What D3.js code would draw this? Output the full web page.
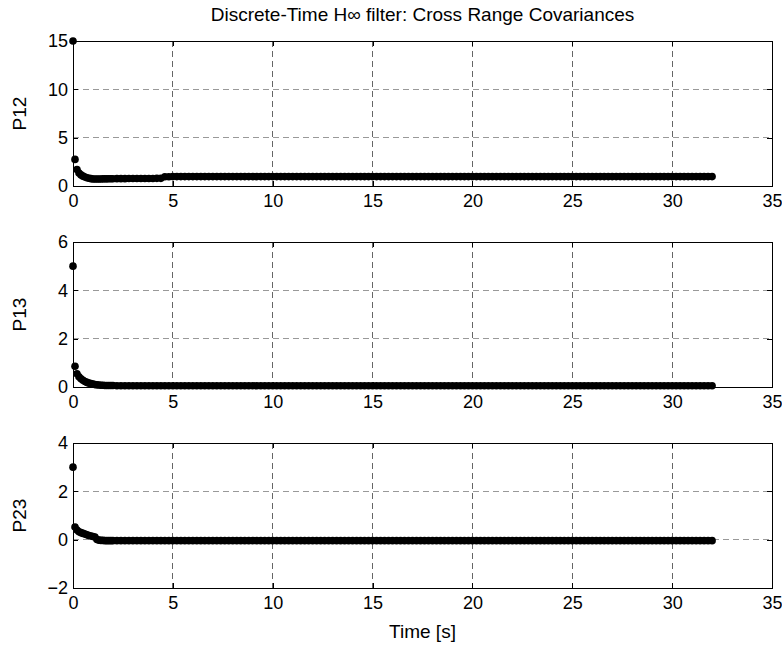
<!DOCTYPE html>
<html>
<head>
<meta charset="utf-8">
<script src="https://cdn.jsdelivr.net/npm/d3@7"></script>
<style>
  html, body { margin: 0; padding: 0; background: #fff; }
  svg { display: block; }
  text { font-family: "Liberation Sans", Arial, Helvetica, sans-serif; fill: #000; }
</style>
</head>
<body>
<svg id="chart" width="782" height="649"></svg>
<script>
// ---------------- DATA ----------------
const titleText = "Discrete-Time H\u221E filter: Cross Range Covariances";
const xLabelText = "Time [s]";
const xTicks = [0, 5, 10, 15, 20, 25, 30, 35];

const time = [
  0, 0.1, 0.2, 0.3, 0.4, 0.5, 0.6, 0.7, 0.8, 0.9, 1.0, 1.1, 1.2, 1.3, 1.4, 1.5, 1.6, 1.7, 1.8, 1.9, 2.0,
  2.2, 2.4, 2.6, 2.8, 3.0, 3.2, 3.4, 3.6, 3.8, 4.0,
  4.2, 4.4, 4.6, 4.8, 5.0, 5.2, 5.4, 5.6, 5.8, 6.0,
  6.2, 6.4, 6.6, 6.8, 7.0, 7.2, 7.4, 7.6, 7.8, 8.0,
  8.2, 8.4, 8.6, 8.8, 9.0, 9.2, 9.4, 9.6, 9.8, 10.0,
  10.2, 10.4, 10.6, 10.8, 11.0, 11.2, 11.4, 11.6, 11.8, 12.0,
  12.2, 12.4, 12.6, 12.8, 13.0, 13.2, 13.4, 13.6, 13.8, 14.0,
  14.2, 14.4, 14.6, 14.8, 15.0, 15.2, 15.4, 15.6, 15.8, 16.0,
  16.2, 16.4, 16.6, 16.8, 17.0, 17.2, 17.4, 17.6, 17.8, 18.0,
  18.2, 18.4, 18.6, 18.8, 19.0, 19.2, 19.4, 19.6, 19.8, 20.0,
  20.2, 20.4, 20.6, 20.8, 21.0, 21.2, 21.4, 21.6, 21.8, 22.0,
  22.2, 22.4, 22.6, 22.8, 23.0, 23.2, 23.4, 23.6, 23.8, 24.0,
  24.2, 24.4, 24.6, 24.8, 25.0, 25.2, 25.4, 25.6, 25.8, 26.0,
  26.2, 26.4, 26.6, 26.8, 27.0, 27.2, 27.4, 27.6, 27.8, 28.0,
  28.2, 28.4, 28.6, 28.8, 29.0, 29.2, 29.4, 29.6, 29.8, 30.0,
  30.2, 30.4, 30.6, 30.8, 31.0, 31.2, 31.4, 31.6, 31.8, 32.0
];

const p12 = [
  15, 2.75, 1.7, 1.35, 1.15, 1.02, 0.93, 0.86, 0.8, 0.76, 0.73, 0.72, 0.72, 0.73, 0.73, 0.74, 0.74, 0.74, 0.75, 0.75, 0.75,
  0.76, 0.76, 0.76, 0.77, 0.77, 0.77, 0.78, 0.78, 0.78, 0.78,
  0.79, 0.79, 0.96, 0.96, 0.97, 0.97, 0.97, 0.97, 0.97, 0.97,
  0.97, 0.97, 0.97, 0.97, 0.97, 0.97, 0.97, 0.97, 0.97, 0.97,
  0.97, 0.97, 0.97, 0.97, 0.97, 0.97, 0.97, 0.97, 0.97, 0.97,
  0.97, 0.97, 0.97, 0.97, 0.97, 0.97, 0.97, 0.97, 0.97, 0.97,
  0.97, 0.97, 0.97, 0.97, 0.97, 0.97, 0.97, 0.97, 0.97, 0.97,
  0.97, 0.97, 0.97, 0.97, 0.97, 0.97, 0.97, 0.97, 0.97, 0.97,
  0.97, 0.97, 0.97, 0.97, 0.97, 0.97, 0.97, 0.97, 0.97, 0.97,
  0.97, 0.97, 0.97, 0.97, 0.97, 0.97, 0.97, 0.97, 0.97, 0.97,
  0.97, 0.97, 0.97, 0.97, 0.97, 0.97, 0.97, 0.97, 0.97, 0.97,
  0.97, 0.97, 0.97, 0.97, 0.97, 0.97, 0.97, 0.97, 0.97, 0.97,
  0.97, 0.97, 0.97, 0.97, 0.97, 0.97, 0.97, 0.97, 0.97, 0.97,
  0.97, 0.97, 0.97, 0.97, 0.97, 0.97, 0.97, 0.97, 0.97, 0.97,
  0.97, 0.97, 0.97, 0.97, 0.97, 0.97, 0.97, 0.97, 0.97, 0.97,
  0.97, 0.97, 0.97, 0.97, 0.97, 0.97, 0.97, 0.97, 0.97, 0.97
];

const p13 = [
  5, 0.86, 0.55, 0.42, 0.34, 0.28, 0.23, 0.19, 0.16, 0.14, 0.12, 0.1, 0.09, 0.08, 0.07, 0.07, 0.06, 0.06, 0.06, 0.06, 0.06,
  0.05, 0.05, 0.05, 0.05, 0.05, 0.05, 0.05, 0.05, 0.05, 0.05,
  0.05, 0.05, 0.05, 0.05, 0.05, 0.05, 0.05, 0.05, 0.05, 0.05,
  0.05, 0.05, 0.05, 0.05, 0.05, 0.05, 0.05, 0.05, 0.05, 0.05,
  0.05, 0.05, 0.05, 0.05, 0.05, 0.05, 0.05, 0.05, 0.05, 0.05,
  0.05, 0.05, 0.05, 0.05, 0.05, 0.05, 0.05, 0.05, 0.05, 0.05,
  0.05, 0.05, 0.05, 0.05, 0.05, 0.05, 0.05, 0.05, 0.05, 0.05,
  0.05, 0.05, 0.05, 0.05, 0.05, 0.05, 0.05, 0.05, 0.05, 0.05,
  0.05, 0.05, 0.05, 0.05, 0.05, 0.05, 0.05, 0.05, 0.05, 0.05,
  0.05, 0.05, 0.05, 0.05, 0.05, 0.05, 0.05, 0.05, 0.05, 0.05,
  0.05, 0.05, 0.05, 0.05, 0.05, 0.05, 0.05, 0.05, 0.05, 0.05,
  0.05, 0.05, 0.05, 0.05, 0.05, 0.05, 0.05, 0.05, 0.05, 0.05,
  0.05, 0.05, 0.05, 0.05, 0.05, 0.05, 0.05, 0.05, 0.05, 0.05,
  0.05, 0.05, 0.05, 0.05, 0.05, 0.05, 0.05, 0.05, 0.05, 0.05,
  0.05, 0.05, 0.05, 0.05, 0.05, 0.05, 0.05, 0.05, 0.05, 0.05,
  0.05, 0.05, 0.05, 0.05, 0.05, 0.05, 0.05, 0.05, 0.05, 0.05
];

const p23 = [
  3, 0.52, 0.4, 0.33, 0.29, 0.26, 0.23, 0.2, 0.17, 0.15, 0.13, 0.11, 0.01, -0.02, -0.03, -0.03, -0.04, -0.04, -0.04, -0.04, -0.04,
  -0.04, -0.04, -0.04, -0.04, -0.04, -0.04, -0.04, -0.04, -0.04, -0.04,
  -0.04, -0.04, -0.04, -0.04, -0.04, -0.04, -0.04, -0.04, -0.04, -0.04,
  -0.04, -0.04, -0.04, -0.04, -0.04, -0.04, -0.04, -0.04, -0.04, -0.04,
  -0.04, -0.04, -0.04, -0.04, -0.04, -0.04, -0.04, -0.04, -0.04, -0.04,
  -0.04, -0.04, -0.04, -0.04, -0.04, -0.04, -0.04, -0.04, -0.04, -0.04,
  -0.04, -0.04, -0.04, -0.04, -0.04, -0.04, -0.04, -0.04, -0.04, -0.04,
  -0.04, -0.04, -0.04, -0.04, -0.04, -0.04, -0.04, -0.04, -0.04, -0.04,
  -0.04, -0.04, -0.04, -0.04, -0.04, -0.04, -0.04, -0.04, -0.04, -0.04,
  -0.04, -0.04, -0.04, -0.04, -0.04, -0.04, -0.04, -0.04, -0.04, -0.04,
  -0.04, -0.04, -0.04, -0.04, -0.04, -0.04, -0.04, -0.04, -0.04, -0.04,
  -0.04, -0.04, -0.04, -0.04, -0.04, -0.04, -0.04, -0.04, -0.04, -0.04,
  -0.04, -0.04, -0.04, -0.04, -0.04, -0.04, -0.04, -0.04, -0.04, -0.04,
  -0.04, -0.04, -0.04, -0.04, -0.04, -0.04, -0.04, -0.04, -0.04, -0.04,
  -0.04, -0.04, -0.04, -0.04, -0.04, -0.04, -0.04, -0.04, -0.04, -0.04,
  -0.04, -0.04, -0.04, -0.04, -0.04, -0.04, -0.04, -0.04, -0.04, -0.04
];

const yLabels = ["P12", "P13", "P23"];
const yTicks12 = [0, 5, 10, 15];
const yTicks13 = [0, 2, 4, 6];
const yTicks23 = [-2, 0, 2, 4];

// ---------------- DRAW ----------------
const svg = d3.select("#chart");
const left = 73, right = 772;
const panelTops = [41, 242, 443];
const panelH = 145;
const tickFont = 18;
const labelFont = 19;
const titleFont = 19;

const panels = [
  { values: p12, label: yLabels[0], ticks: yTicks12, domain: [0, 15] },
  { values: p13, label: yLabels[1], ticks: yTicks13, domain: [0, 6] },
  { values: p23, label: yLabels[2], ticks: yTicks23, domain: [-2, 4] }
];

const x = d3.scaleLinear().domain([0, 35]).range([left, right]);

panels.forEach((p, i) => {
  const top = panelTops[i], bottom = top + panelH;
  const y = d3.scaleLinear().domain(p.domain).range([bottom, top]);
  const g = svg.append("g");

  // grid
  const grid = g.append("g").attr("stroke-width", 0.6)
    .attr("stroke-dasharray", "6,4").attr("shape-rendering", "crispEdges");
  xTicks.slice(1, -1).forEach(t => {
    grid.append("line").attr("stroke", "#000")
      .attr("x1", x(t)).attr("x2", x(t)).attr("y1", top).attr("y2", bottom);
  });
  p.ticks.slice(1, -1).forEach(t => {
    grid.append("line").attr("stroke", "#555")
      .attr("x1", left).attr("x2", right).attr("y1", y(t)).attr("y2", y(t));
  });

  // axes (D3 axis generators, inward ticks)
  const xAxisB = d3.axisBottom(x).tickValues(xTicks).tickSizeInner(-5).tickSizeOuter(0).tickPadding(8).tickFormat(d3.format("d"));
  const xAxisT = d3.axisTop(x).tickValues(xTicks).tickSizeInner(-5).tickSizeOuter(0).tickFormat("");
  const yAxisL = d3.axisLeft(y).tickValues(p.ticks).tickSizeInner(-5).tickSizeOuter(0).tickPadding(5).tickFormat(d3.format("d"));
  const yAxisR = d3.axisRight(y).tickValues(p.ticks).tickSizeInner(-5).tickSizeOuter(0).tickFormat("");

  const axB = g.append("g").attr("transform", `translate(0,${bottom})`).call(xAxisB);
  const axT = g.append("g").attr("transform", `translate(0,${top})`).call(xAxisT);
  const axL = g.append("g").attr("transform", `translate(${left},0)`).call(yAxisL);
  const axR = g.append("g").attr("transform", `translate(${right},0)`).call(yAxisR);
  [axB, axT, axL, axR].forEach(a => {
    a.selectAll("path").attr("stroke", "#000").attr("stroke-width", 1).attr("shape-rendering", "crispEdges");
    a.selectAll("line").attr("stroke", "#000").attr("stroke-width", 1).attr("shape-rendering", "crispEdges");
    a.selectAll("text").attr("font-size", tickFont).attr("font-family", "Liberation Sans, Arial, sans-serif").attr("fill", "#000");
  });

  // y label
  g.append("text")
    .attr("transform", `translate(${26},${(top + bottom) / 2}) rotate(-90)`)
    .attr("text-anchor", "middle")
    .attr("font-size", labelFont)
    .text(p.label);

  // data points
  g.append("g").selectAll("circle")
    .data(time.map((t, k) => [t, p.values[k]]))
    .join("circle")
    .attr("cx", d => x(d[0]))
    .attr("cy", d => y(d[1]))
    .attr("r", 3.8)
    .attr("fill", "#000");
});

// title
svg.append("text")
  .attr("x", (left + right) / 2)
  .attr("y", 21)
  .attr("text-anchor", "middle")
  .attr("font-size", titleFont)
  .text(titleText);

// x label
svg.append("text")
  .attr("x", (left + right) / 2)
  .attr("y", 638)
  .attr("text-anchor", "middle")
  .attr("font-size", labelFont)
  .text(xLabelText);
</script>
</body>
</html>
